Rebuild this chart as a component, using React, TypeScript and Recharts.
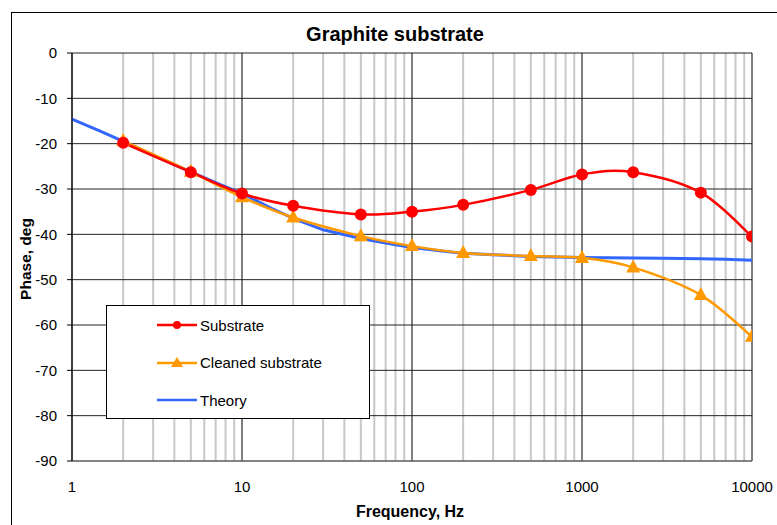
import React from 'react';
import { LineChart, Line, XAxis, YAxis, CartesianGrid, Legend } from 'recharts';

const freqs = [2, 5, 10, 20, 50, 100, 200, 500, 1000, 2000, 5000, 10000];
const substrate = [-19.8, -26.3, -31.0, -33.7, -35.6, -35.0, -33.5, -30.2, -26.8, -26.3, -30.8, -40.5];
const cleaned = [-19.4, -26.2, -31.8, -36.3, -40.4, -42.6, -44.1, -44.8, -45.2, -47.3, -53.4, -62.6];

const theoryFreqs = [1, 1.5, 2, 3, 4, 5, 7, 10, 15, 20, 30, 50, 70, 100, 150, 200, 300, 500, 700, 1000, 2000, 3000, 5000, 7000, 10000];
const theory = [-14.6, -17.4, -19.5, -22.5, -24.6, -26.2, -28.6, -31.0, -34.3, -36.5, -39.0, -40.9, -41.9, -42.9, -43.7, -44.2, -44.5, -44.9, -45.0, -45.1, -45.2, -45.3, -45.4, -45.5, -45.7];

const xTicks = [1, 10, 100, 1000, 10000];
const yTicks = [0, -10, -20, -30, -40, -50, -60, -70, -80, -90];
const minorX = [2, 3, 4, 5, 6, 7, 8, 9].flatMap((m) => [1, 10, 100, 1000].map((d) => m * d));

const substrateData = freqs.map((x, i) => ({ x, y: substrate[i] }));
const cleanedData = freqs.map((x, i) => ({ x, y: cleaned[i] }));
const theoryData = theoryFreqs.map((x, i) => ({ x, y: theory[i] }));

const RED = '#ff0000';
const ORANGE = '#ff9900';
const BLUE = '#3366ff';
const FONT = 'Arial, "Liberation Sans", sans-serif';

// catmull-rom style smoothing, like excel's smoothed lines
const smoothCurve = (context: any) => {
  let pts: number[][] = [];
  return {
    areaStart() {},
    areaEnd() {},
    lineStart() {
      pts = [];
    },
    point(x: number, y: number) {
      pts.push([+x, +y]);
    },
    lineEnd() {
      if (!pts.length) return;
      context.moveTo(pts[0][0], pts[0][1]);
      for (let i = 0; i < pts.length - 1; i++) {
        const p0 = pts[i - 1] || pts[i];
        const p1 = pts[i];
        const p2 = pts[i + 1];
        const p3 = pts[i + 2] || p2;
        context.bezierCurveTo(
          p1[0] + (p2[0] - p0[0]) / 6,
          p1[1] + (p2[1] - p0[1]) / 6,
          p2[0] - (p3[0] - p1[0]) / 6,
          p2[1] - (p3[1] - p1[1]) / 6,
          p2[0],
          p2[1]
        );
      }
    },
  };
};

const Triangle = (props: any) => {
  const { cx, cy } = props;
  if (cx == null || cy == null) return null;
  return <polygon points={`${cx},${cy - 8} ${cx - 7},${cy + 5} ${cx + 7},${cy + 5}`} fill={ORANGE} />;
};

const logX = (offset: any, v: number) => offset.left + (offset.width * Math.log10(v)) / 4;

const LegendBox = () => {
  const rows = [
    { name: 'Substrate', color: RED, mark: 'dot' },
    { name: 'Cleaned substrate', color: ORANGE, mark: 'tri' },
    { name: 'Theory', color: BLUE, mark: 'none' },
  ];
  return (
    <div style={{ width: 262, height: 112, border: '1px solid #000', background: '#fff', position: 'relative' }}>
      {rows.map((r, i) => (
        <div key={r.name} style={{ position: 'absolute', left: 50, top: 10 + i * 37.5, height: 18, display: 'flex', alignItems: 'center' }}>
          <svg width={42} height={16}>
            <line x1={0} y1={8} x2={40} y2={8} stroke={r.color} strokeWidth={2.5} />
            {r.mark === 'dot' && <circle cx={20} cy={8} r={4} fill={r.color} />}
            {r.mark === 'tri' && <polygon points="20,2 14,12 26,12" fill={r.color} />}
          </svg>
          <span style={{ fontFamily: FONT, fontSize: 15, color: '#000', marginLeft: 1 }}>{r.name}</span>
        </div>
      ))}
    </div>
  );
};

export default function App() {
  return (
    <div style={{ position: 'absolute', left: 0, top: 0, width: 777, height: 525, overflow: 'hidden', background: '#fff' }}>
      <div style={{ position: 'absolute', left: 11, top: 12, width: 820, height: 600, border: '1px solid #000' }} />
      <div style={{ position: 'absolute', left: 0, width: 790, top: 23, textAlign: 'center', fontFamily: FONT, fontWeight: 'bold', fontSize: 20 }}>
        Graphite substrate
      </div>
      <div style={{ position: 'absolute', left: 0, width: 820, top: 503, textAlign: 'center', fontFamily: FONT, fontWeight: 'bold', fontSize: 16 }}>
        Frequency, Hz
      </div>
      <div
        style={{
          position: 'absolute',
          left: 26,
          top: 259,
          transform: 'translate(-50%, -50%) rotate(-90deg)',
          whiteSpace: 'nowrap',
          fontFamily: FONT,
          fontWeight: 'bold',
          fontSize: 15.5,
        }}
      >
        Phase, deg
      </div>
      <div style={{ position: 'absolute', left: 0, top: 0 }}>
        <LineChart width={777} height={525} margin={{ top: 53, right: 25, bottom: 0, left: 12 }}>
          <CartesianGrid
            horizontal={false}
            stroke="#c8c8c8"
            strokeWidth={2}
            verticalCoordinatesGenerator={({ offset }: any) => minorX.map((v) => logX(offset, v))}
          />
          <CartesianGrid
            horizontal={false}
            stroke="#555"
            strokeWidth={1.5}
            verticalCoordinatesGenerator={({ offset }: any) => xTicks.map((v) => logX(offset, v))}
          />
          <CartesianGrid vertical={false} stroke="#222" strokeWidth={1} />
          <XAxis
            dataKey="x"
            type="number"
            scale="log"
            domain={[1, 10000]}
            ticks={xTicks}
            allowDataOverflow
            height={64}
            tickLine={false}
            tickSize={0}
            tickMargin={20}
            axisLine={{ stroke: '#777' }}
            tick={{ fill: '#000', fontSize: 15, fontFamily: FONT }}
          />
          <YAxis
            type="number"
            domain={[-90, 0]}
            ticks={yTicks}
            width={60}
            tickSize={5}
            tickMargin={10}
            tickLine={{ stroke: '#000' }}
            axisLine={{ stroke: '#000' }}
            tick={{ fill: '#000', fontSize: 15, fontFamily: FONT }}
          />
          <Legend
            layout="vertical"
            align="center"
            verticalAlign="middle"
            content={() => <LegendBox />}
            wrapperStyle={{ left: 106, top: 305, width: 264, height: 114 }}
          />
          <Line data={theoryData} dataKey="y" name="Theory" type="linear" stroke={BLUE} strokeWidth={3} dot={false} isAnimationActive={false} />
          <Line
            data={cleanedData}
            dataKey="y"
            name="Cleaned substrate"
            type={smoothCurve as any}
            stroke={ORANGE}
            strokeWidth={2.5}
            dot={<Triangle />}
            isAnimationActive={false}
          />
          <Line
            data={substrateData}
            dataKey="y"
            name="Substrate"
            type={smoothCurve as any}
            stroke={RED}
            strokeWidth={2.5}
            dot={{ r: 6, fill: RED, stroke: RED, strokeWidth: 0 }}
            isAnimationActive={false}
          />
        </LineChart>
      </div>
    </div>
  );
}
